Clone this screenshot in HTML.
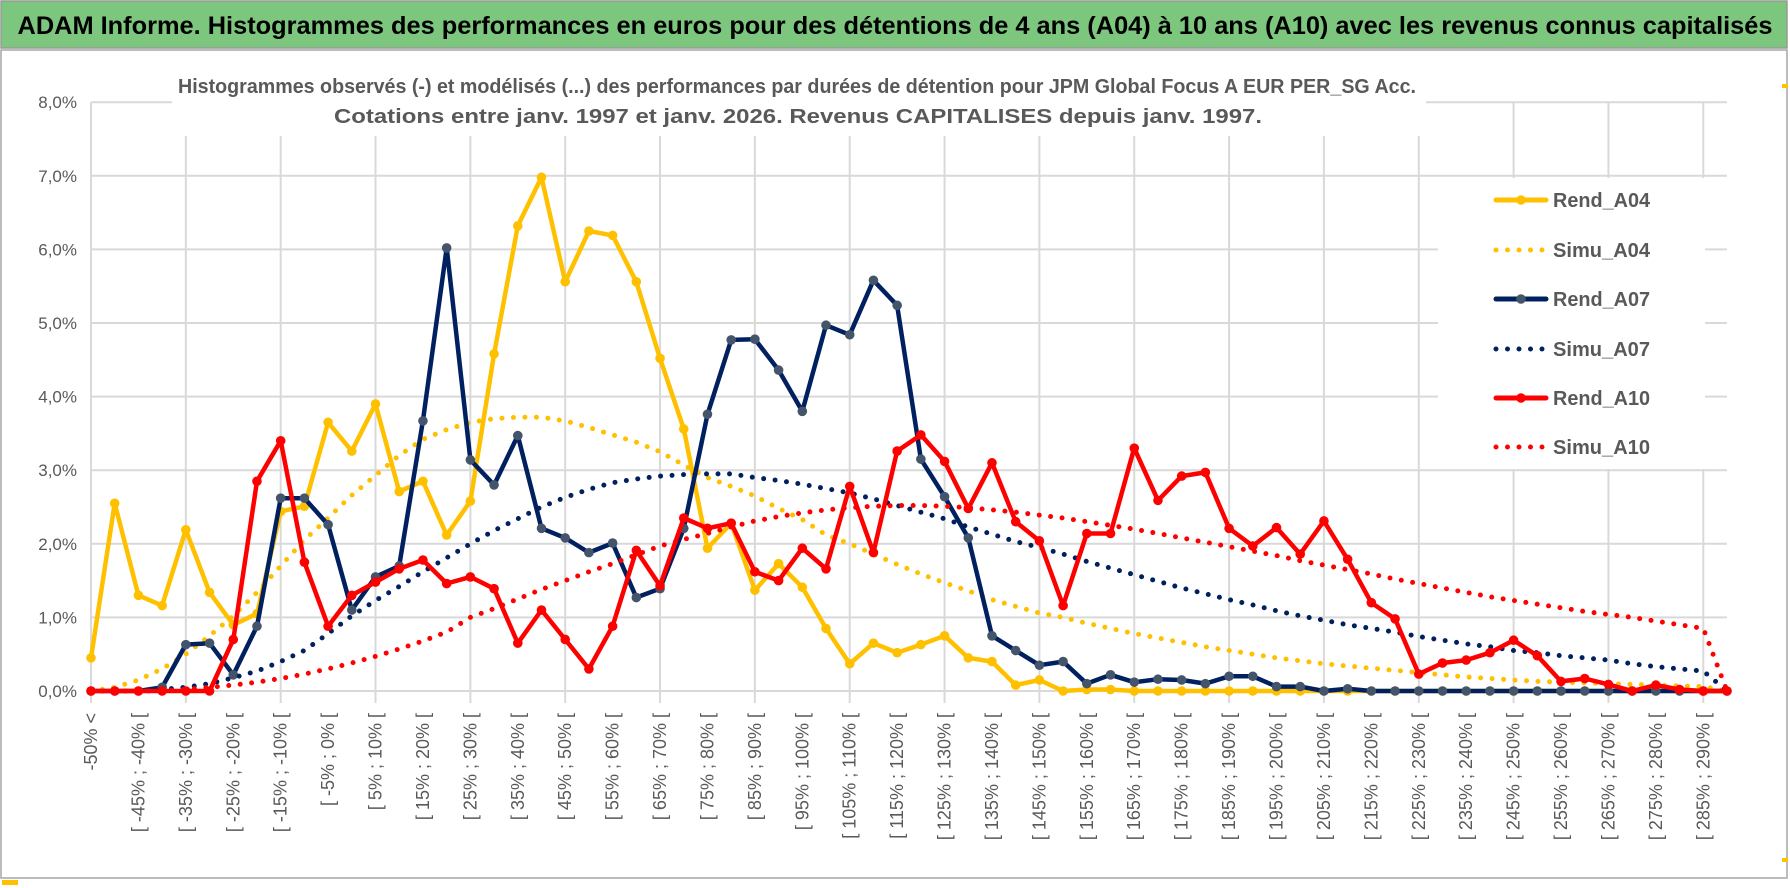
<!DOCTYPE html>
<html><head><meta charset="utf-8">
<style>
html,body{margin:0;padding:0;background:#fff;}
svg{display:block;font-family:"Liberation Sans",sans-serif;}
</style></head>
<body>
<svg id="chart" width="1790" height="888" viewBox="0 0 1790 888" xmlns="http://www.w3.org/2000/svg">
  <rect x="0" y="0" width="1790" height="888" fill="#fff"/>
  <rect x="1" y="1" width="1786" height="47" fill="#7DC67E" stroke="#9a9a9a" stroke-width="1.5"/>
  <text x="895" y="34" text-anchor="middle" font-size="25" font-weight="bold" fill="#000" textLength="1755" lengthAdjust="spacingAndGlyphs">ADAM Informe. Histogrammes des performances en euros pour des détentions de 4 ans (A04) à 10 ans (A10) avec les revenus connus capitalisés</text>
  <rect x="1" y="50" width="1786" height="828" fill="none" stroke="#a6a6a6" stroke-width="1.5"/>
  <rect x="1782" y="84" width="6" height="4" fill="#FFC000"/>
  <rect x="1782" y="858" width="6" height="4" fill="#FFC000"/>
  <rect x="2" y="880" width="16" height="5" fill="#FFC000"/>
  <g id="grid"></g>
  <rect x="172" y="66" width="1254" height="70" fill="#fff"/>
  <text x="797" y="93" text-anchor="middle" font-size="20" font-weight="bold" fill="#595959" textLength="1238" lengthAdjust="spacingAndGlyphs">Histogrammes observés (-) et modélisés (...) des performances par durées de détention pour JPM Global Focus A EUR PER_SG Acc.</text>
  <text x="798" y="123" text-anchor="middle" font-size="20" font-weight="bold" fill="#595959" textLength="928" lengthAdjust="spacingAndGlyphs">Cotations entre janv. 1997 et janv. 2026. Revenus CAPITALISES depuis janv. 1997.</text>
  <rect x="1438" y="178" width="267" height="291" fill="#fff"/>
  <g id="axes"></g>
  <g id="series"></g>
  <g id="legend"></g>
</svg>
<script>
const rendA04 = [0.45,2.55,1.3,1.16,2.19,1.34,0.9,1.05,2.44,2.51,3.65,3.26,3.9,2.71,2.85,2.12,2.58,4.58,6.32,6.98,5.56,6.25,6.19,5.56,4.52,3.56,1.94,2.28,1.37,1.73,1.41,0.85,0.37,0.65,0.52,0.63,0.75,0.45,0.4,0.08,0.15,0,0.02,0.02,0,0,0,0,0,0,0,0,0,0,0,0,0,0,0,0,0,0,0,0,0,0,0,0,0,0];
const simuA04 = [0,0.05,0.15,0.3,0.5,0.75,1.02,1.34,1.7,2.05,2.35,2.66,2.93,3.2,3.42,3.55,3.65,3.7,3.72,3.72,3.67,3.58,3.48,3.38,3.25,3.07,2.9,2.78,2.65,2.48,2.33,2.12,2.0,1.86,1.72,1.59,1.47,1.36,1.24,1.15,1.06,1.0,0.92,0.85,0.78,0.72,0.66,0.6,0.55,0.5,0.45,0.41,0.37,0.34,0.31,0.28,0.25,0.22,0.19,0.17,0.15,0.13,0.12,0.11,0.1,0.09,0.08,0.07,0.06,0];
const rendA07 = [0,0,0,0.05,0.63,0.65,0.22,0.88,2.62,2.62,2.26,1.1,1.55,1.7,3.67,6.02,3.14,2.8,3.47,2.21,2.08,1.88,2.01,1.27,1.39,2.21,3.76,4.77,4.78,4.36,3.8,4.97,4.84,5.58,5.24,3.15,2.64,2.08,0.75,0.55,0.35,0.4,0.1,0.22,0.12,0.16,0.15,0.1,0.2,0.2,0.06,0.06,0,0.03,0,0,0,0,0,0,0,0,0,0,0,0,0,0,0,0];
const simuA07 = [0,0,0,0.02,0.05,0.1,0.18,0.27,0.4,0.55,0.78,1.02,1.23,1.42,1.62,1.81,2.0,2.18,2.34,2.5,2.63,2.74,2.83,2.88,2.92,2.94,2.95,2.95,2.9,2.86,2.81,2.75,2.69,2.61,2.52,2.43,2.34,2.23,2.13,2.03,1.95,1.86,1.76,1.67,1.58,1.49,1.4,1.32,1.24,1.17,1.09,1.02,0.96,0.9,0.85,0.8,0.74,0.69,0.64,0.6,0.55,0.52,0.48,0.45,0.42,0.37,0.33,0.3,0.27,0];
const rendA10 = [0,0,0,0,0,0,0.7,2.85,3.4,1.75,0.88,1.3,1.48,1.66,1.78,1.46,1.55,1.39,0.65,1.1,0.7,0.3,0.88,1.91,1.43,2.35,2.21,2.28,1.62,1.5,1.94,1.66,2.78,1.88,3.26,3.48,3.12,2.48,3.1,2.3,2.04,1.16,2.14,2.14,3.3,2.59,2.92,2.97,2.21,1.97,2.22,1.86,2.31,1.79,1.2,0.98,0.23,0.38,0.42,0.52,0.69,0.48,0.13,0.17,0.09,0,0.08,0.02,0,0];
const simuA10 = [0,0,0,0,0.02,0.05,0.08,0.12,0.17,0.23,0.3,0.38,0.47,0.57,0.68,0.8,1.0,1.12,1.25,1.38,1.5,1.62,1.73,1.85,1.97,2.06,2.14,2.23,2.31,2.37,2.42,2.46,2.49,2.51,2.52,2.52,2.51,2.49,2.46,2.43,2.39,2.35,2.3,2.25,2.2,2.14,2.08,2.02,1.96,1.9,1.84,1.77,1.71,1.65,1.59,1.52,1.46,1.4,1.34,1.28,1.23,1.18,1.13,1.08,1.04,1.0,0.95,0.9,0.85,0];
const yTicks = [0,1,2,3,4,5,6,7,8];
const yTickLabels = ["0,0%","1,0%","2,0%","3,0%","4,0%","5,0%","6,0%","7,0%","8,0%"];
const categories = ["-50% <"];
for (let i = 1; i < 70; i++) {
  const a = -50 + 5*(i-1);
  categories.push("[ " + a + "% ; " + (a+5) + "% [");
}
const seriesNames = ["Rend_A04","Simu_A04","Rend_A07","Simu_A07","Rend_A10","Simu_A10"];

const NS = "http://www.w3.org/2000/svg";
const X0 = 91, X1 = 1727, Y0 = 691, YPER = 73.6;
function xScale(i){ return X0 + i*(X1-X0)/(categories.length-1); }
function yScale(v){ return Y0 - v*YPER; }
function mk(tag, attrs, parent){
  const e = document.createElementNS(NS, tag);
  for (const k in attrs) e.setAttribute(k, attrs[k]);
  parent.appendChild(e);
  return e;
}
const grid = document.getElementById('grid');
const axes = document.getElementById('axes');
const series = document.getElementById('series');
const legend = document.getElementById('legend');

yTicks.forEach((t, i) => {
  const l = mk('line', {x1:X0, x2:X1, y1:yScale(t), y2:yScale(t), stroke:'#d9d9d9', 'stroke-width':2}, grid);
  
  
  const tx = mk('text', {x:77, y:yScale(t)+6, 'text-anchor':'end', 'font-size':17, fill:'#595959'}, axes);
  tx.textContent = yTickLabels[i];
  
  
});
for (let i = 0; i < categories.length; i += 4) {
  const l = mk('line', {x1:xScale(i), x2:xScale(i), y1:yScale(8), y2:Y0+12, stroke:'#d9d9d9', 'stroke-width':2}, grid);
  
  
}
for (let i = 0; i < categories.length; i += 2) {
  const x = xScale(i) + 6, y = 713;
  const tx = mk('text', {x:x, y:y, 'text-anchor':'end', 'font-size':18, fill:'#595959', transform:'rotate(-90 '+x+' '+y+')'}, axes);
  tx.textContent = categories[i];
  
  
}

function pts(arr){ return arr.map((v,i)=>xScale(i).toFixed(1)+','+yScale(v).toFixed(1)).join(' '); }
function solid(arr, color, mcolor, name){
  const g = mk('g', {}, series);
  
  
  const p = mk('polyline', {points:pts(arr), fill:'none', stroke:color, 'stroke-width':4.5, 'stroke-linejoin':'round'}, g);
  
  
  arr.forEach((v,i)=>{
    const c = mk('circle', {cx:xScale(i), cy:yScale(v), r:4.8, fill:mcolor}, g);
    
    
  });
}
function dotted(arr, color, name){
  const p = mk('polyline', {points:pts(arr), fill:'none', stroke:color, 'stroke-width':5, 'stroke-linecap':'round', 'stroke-dasharray':'0 11.5'}, series);
  
  
}
solid(rendA04, '#FFC000', '#FFC000', 'rend-a04');
dotted(simuA04, '#FFC000', 'simu-a04');
solid(rendA07, '#002060', '#44546A', 'rend-a07');
dotted(simuA07, '#002060', 'simu-a07');
solid(rendA10, '#FF0000', '#FF0000', 'rend-a10');
dotted(simuA10, '#FF0000', 'simu-a10');

const legColors = ['#FFC000','#FFC000','#002060','#002060','#FF0000','#FF0000'];
const legMarkers = ['#FFC000',null,'#44546A',null,'#FF0000',null];
const legY = [200,250,299,349,398,447];
seriesNames.forEach((n, i) => {
  const y = legY[i];
  const g = mk('g', {}, legend);
  
  
  if (legMarkers[i]) {
    mk('line', {x1:1496, x2:1546, y1:y, y2:y, stroke:legColors[i], 'stroke-width':5, 'stroke-linecap':'round'}, g);
    mk('circle', {cx:1521, cy:y, r:4.8, fill:legMarkers[i]}, g);
  } else {
    mk('line', {x1:1496, x2:1546, y1:y, y2:y, stroke:legColors[i], 'stroke-width':5, 'stroke-linecap':'round', 'stroke-dasharray':'0 11.5'}, g);
  }
  const t = mk('text', {x:1553, y:y+7, 'font-size':20, 'font-weight':'bold', fill:'#595959', textLength:97, lengthAdjust:'spacingAndGlyphs'}, g);
  t.textContent = n;
});
</script>
</body></html>
